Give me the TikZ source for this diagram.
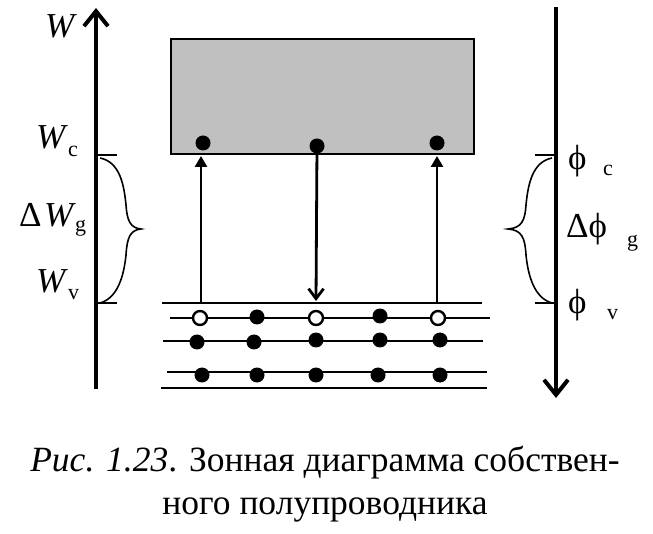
\documentclass[tikz,border=0pt]{standalone}
\usepackage{fontspec}
\setmainfont{Liberation Serif}
\usetikzlibrary{arrows.meta}
\begin{document}
\begin{tikzpicture}[x=1pt,y=-1pt,
  axis/.style={line width=4pt},
  level/.style={line width=2.8pt},
  tick/.style={line width=2.4pt},
  brace/.style={line width=1.6pt},
  trans/.style={line width=2.8pt},
  edot/.style={circle,fill=black,inner sep=0pt,minimum size=15pt},
  hole/.style={circle,draw=black,fill=white,line width=2.4pt,inner sep=0pt,minimum size=14pt},
  lbl/.style={inner sep=0pt,anchor=base west,font=\fontsize{35}{38}\selectfont},
  ilbl/.style={inner sep=0pt,anchor=base west,font=\itshape\fontsize{35}{38}\selectfont},
  sub/.style={inner sep=0pt,anchor=base west,font=\fontsize{22}{24}\selectfont},
  captext/.style={inner sep=0pt,anchor=base,font=\fontsize{35.5}{38}\selectfont}]
\useasboundingbox (0,0) rectangle (653,534);
% left axis
\coordinate (La) at (96,389);
\coordinate (Lb) at (96,8);
\draw[axis,-{Straight Barb[length=15pt,width=24pt]}] (La) -- (Lb);
\coordinate (Lc) at (96,155);
\coordinate (Lc2) at (117,155);
\coordinate (Lv) at (96,303);
\coordinate (Lv2) at (117,303);
\draw[tick] (Lc) -- (Lc2);
\draw[tick] (Lv) -- (Lv2);
\draw[brace] (100,158) .. controls (120,162) and (124,185) .. (126,205)
  .. controls (127,220) and (130,228) .. (141,229)
  .. controls (130,230) and (127,238) .. (126,255)
  .. controls (124,275) and (118,298) .. (100,303);
% left labels
\node[ilbl] (W) at (45,38) {W};
\node[ilbl] (Wc) at (36,149) {W};
\node[sub] (Wcs) at (68,157) {c};
\node[lbl] (dW) at (19,227) {Δ};
\node[ilbl] (dWW) at (44,227) {W};
\node[sub] (dWs) at (75,232) {g};
\node[ilbl] (Wv) at (36,293) {W};
\node[sub] (Wvs) at (68,300) {v};
% right axis
\coordinate (Ra) at (556,7);
\coordinate (Rb) at (556,398);
\draw[axis,-{Straight Barb[length=15pt,width=24pt]}] (Ra) -- (Rb);
\coordinate (Rc) at (556,155);
\coordinate (Rc2) at (535,155);
\coordinate (Rv) at (556,303);
\coordinate (Rv2) at (535,303);
\draw[tick] (Rc) -- (Rc2);
\draw[tick] (Rv) -- (Rv2);
\draw[brace] (552,158) .. controls (532,162) and (528,185) .. (526,205)
  .. controls (525,220) and (522,228) .. (508,229)
  .. controls (522,230) and (525,238) .. (526,255)
  .. controls (528,275) and (534,298) .. (552,303);
% right labels
\node[lbl] (pc) at (568,170) {ϕ};
\node[sub] (pcs) at (603,176) {c};
\node[lbl] (dp) at (566,238) {Δϕ};
\node[sub] (dps) at (627,247) {g};
\node[lbl] (pv) at (568,314) {ϕ};
\node[sub] (pvs) at (607,320) {v};
% conduction band
\draw[line width=2.8pt,fill={rgb,255:red,192;green,192;blue,192}] (171,39) rectangle (474,154);
\node[edot] (c1) at (203,143) {};
\node[edot] (c2) at (317,146) {};
\node[edot] (c3) at (437,143) {};
% valence levels
\coordinate (l1a) at (162,303); \coordinate (l1b) at (482,303);
\coordinate (l2a) at (170,318); \coordinate (l2b) at (490,318);
\coordinate (l3a) at (163,341); \coordinate (l3b) at (483,341);
\coordinate (l4a) at (167,372); \coordinate (l4b) at (487,372);
\coordinate (l5a) at (161,388); \coordinate (l5b) at (487,388);
\draw[level] (l1a) -- (l1b);
\draw[level] (l2a) -- (l2b);
\draw[level] (l3a) -- (l3b);
\draw[level] (l4a) -- (l4b);
\draw[level] (l5a) -- (l5b);
\node[hole] (h1) at (200,318) {};
\node[edot] (v12) at (257,317) {};
\node[hole] (h2) at (316,318) {};
\node[edot] (v14) at (380,316) {};
\node[hole] (h3) at (438,318) {};
\node[edot] (v21) at (197,342) {};
\node[edot] (v22) at (254,342) {};
\node[edot] (v23) at (316,340) {};
\node[edot] (v24) at (380,340) {};
\node[edot] (v25) at (440,340) {};
\node[edot] (v31) at (202,375) {};
\node[edot] (v32) at (257,375) {};
\node[edot] (v33) at (316,375) {};
\node[edot] (v34) at (378,375) {};
\node[edot] (v35) at (440,375) {};
% transitions
\coordinate (t1a) at (201,303); \coordinate (t1b) at (201,156);
\coordinate (t3a) at (437,303); \coordinate (t3b) at (437,156);
\coordinate (t2b) at (316,301);
\draw[trans,-{Triangle[length=11pt,width=12pt]}] (t1a) -- (t1b);
\draw[trans,-{Triangle[length=11pt,width=12pt]}] (t3a) -- (t3b);
\draw[trans,-{Straight Barb[length=10pt,width=15pt]}] (c2) -- (t2b);
% caption
\node[captext] (cap1) at (325,471) {\textit{Рис. 1.23}. Зонная диаграмма собствен-};
\node[captext] (cap2) at (325,514) {ного полупроводника};
\end{tikzpicture}
\end{document}
